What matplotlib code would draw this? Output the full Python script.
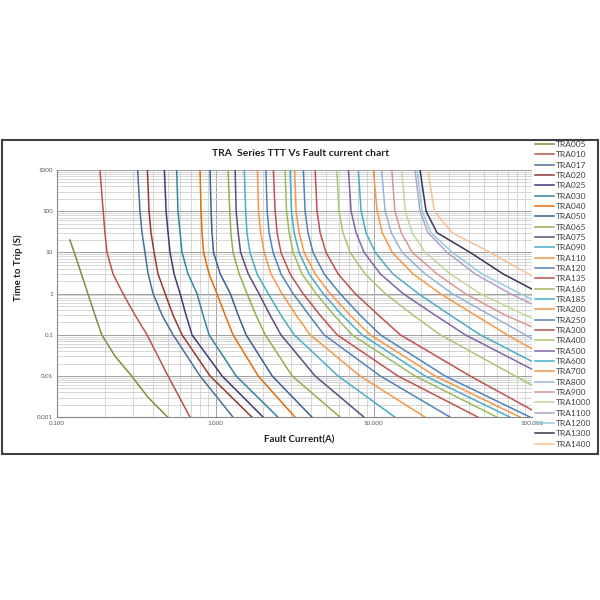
import numpy as np
import matplotlib
matplotlib.use("Agg")
import matplotlib.pyplot as plt
from matplotlib.patches import Rectangle
from matplotlib.ticker import LogLocator

plt.rcParams['font.family'] = ['Lato', 'DejaVu Sans']

nan = np.nan

# trip times (s) at which the curves were read
trip_times = [1000, 100, 30, 10, 3, 1, 0.3, 0.1, 0.01, 0.001]
# TRA005 only starts at about 20 s
tra005_times = [20, 10, 3, 1, 0.3, 0.1, 0.03, 0.01, 0.003, 0.001]

# fault current (A) of each curve at those trip times
tra005 = [0.120, 0.128, 0.142, 0.156, 0.173, 0.191, 0.232, 0.295, 0.375, 0.499]
tra010 = [0.186, 0.195, 0.200, 0.206, 0.225, 0.260, 0.310, 0.369, 0.501, 0.690]
tra017 = [0.322, 0.333, 0.343, 0.358, 0.375, 0.403, 0.459, 0.539, 0.798, 1.29]
tra020 = [0.371, 0.380, 0.391, 0.409, 0.433, 0.480, 0.539, 0.614, 0.923, 1.70]
tra025 = [0.475, 0.487, 0.501, 0.516, 0.547, 0.597, 0.651, 0.710, 1.10, 2.00]
tra030 = [0.568, 0.579, 0.597, 0.614, 0.670, 0.764, 0.834, 0.910, 1.35, 2.48]
tra040 = [0.798, 0.810, 0.822, 0.840, 0.910, 1.02, 1.15, 1.29, 1.86, 3.18]
tra050 = [0.923, 0.937, 0.950, 0.971, 1.07, 1.24, 1.39, 1.56, 2.28, 4.07]
tra065 = [1.20, 1.23, 1.25, 1.29, 1.41, 1.58, 1.80, 2.06, 3.05, 6.12]
tra075 = [1.33, 1.35, 1.39, 1.44, 1.61, 1.88, 2.21, 2.59, 4.26, 8.68]
tra090 = [1.52, 1.55, 1.58, 1.65, 1.83, 2.15, 2.59, 3.14, 5.95, 13.6]
tra110 = [1.84, 1.87, 1.93, 2.03, 2.24, 2.63, 3.23, 3.96, 8.19, 21.1]
tra120 = [2.08, 2.12, 2.18, 2.31, 2.59, 3.09, 3.90, 4.85, 11.0, 30.4]
tra135 = [2.32, 2.38, 2.45, 2.59, 2.96, 3.57, 4.58, 5.86, 14.2, 45.6]
tra160 = [2.75, 2.81, 2.92, 3.09, 3.52, 4.32, 5.61, 7.29, 18.2, 60.2]
tra185 = [2.96, 3.02, 3.14, 3.37, 3.90, 4.78, 6.30, 8.43, 21.1, 72.7]
tra200 = [3.16, 3.23, 3.37, 3.63, 4.26, 5.29, 7.08, 9.48, 24.4, 84.1]
tra250 = [3.59, 3.68, 3.84, 4.13, 4.85, 6.12, 8.19, 11.0, 28.2, 97.3]
tra300 = [4.26, 4.38, 4.58, 4.99, 5.95, 7.62, 10.7, 14.7, 40.6, 121]
tra400 = [5.84, 6.03, 6.39, 7.08, 8.81, 11.8, 17.7, 26.3, 78.2, 233]
tra500 = [6.91, 7.19, 7.73, 8.68, 11.0, 15.3, 24.4, 37.8, 121, nan]
tra600 = [7.99, 8.31, 8.94, 10.2, 13.2, 19.1, 30.4, 47.0, 151, nan]
tra700 = [9.94, 10.5, 11.3, 13.1, 17.7, 26.3, 43.7, 69.6, 201, nan]
tra800 = [11.2, 11.8, 12.9, 15.1, 21.1, 31.3, 54.4, 90.5, 269, nan]
tra900 = [13.0, 13.6, 14.9, 17.5, 25.1, 37.8, 67.6, 130, nan, nan]
tra1000 = [15.0, 15.8, 17.5, 21.1, 30.4, 47.0, 90.5, 174, nan, nan]
tra1100 = [18.2, 19.6, 22.0, 29.1, 43.7, 72.7, 140, nan, nan, nan]
tra1200 = [18.8, 20.2, 23.0, 31.3, 48.4, 84.1, 162, nan, nan, nan]
tra1300 = [19.6, 21.4, 25.1, 40.6, 65.7, 113, nan, nan, nan, nan]
tra1400 = [22.0, 24.1, 31.3, 54.4, 94.5, 162, nan, nan, nan, nan]

names = ['TRA005', 'TRA010', 'TRA017', 'TRA020', 'TRA025', 'TRA030', 'TRA040',
         'TRA050', 'TRA065', 'TRA075', 'TRA090', 'TRA110', 'TRA120', 'TRA135',
         'TRA160', 'TRA185', 'TRA200', 'TRA250', 'TRA300', 'TRA400', 'TRA500',
         'TRA600', 'TRA700', 'TRA800', 'TRA900', 'TRA1000', 'TRA1100',
         'TRA1200', 'TRA1300', 'TRA1400']
colors = ['#77933C', '#C0504D', '#4A6E9A', '#953735', '#3F3A77', '#31859C',
          '#E46C0A', '#376092', '#8EB04E', '#604A7B', '#4BACC6', '#F79646',
          '#4F81BD', '#C0504D', '#9BBB59', '#4BACC6', '#F79646', '#4F81BD',
          '#C0504D', '#A9C66F', '#8064A2', '#4BACC6', '#F79646', '#95B3D7',
          '#D99694', '#C3D69B', '#B3A2C7', '#93CDDD', '#403152', '#FAC090']

x_ticks = [0.1, 1, 10, 100]
x_tick_labels = ['0.100', '1.000', '10.000', '100.000']
y_ticks = [0.001, 0.01, 0.1, 1, 10, 100, 1000]
y_tick_labels = ['0.001', '0.01', '0.1', '1', '10', '100', '1000']

series = [tra005, tra010, tra017, tra020, tra025, tra030, tra040, tra050,
          tra065, tra075, tra090, tra110, tra120, tra135, tra160, tra185,
          tra200, tra250, tra300, tra400, tra500, tra600, tra700, tra800,
          tra900, tra1000, tra1100, tra1200, tra1300, tra1400]

fig = plt.figure(figsize=(6, 6), dpi=100)
ax = fig.add_axes([0.0955, 0.3047, 0.7912, 0.412])

for name, cur, col in zip(names, series, colors):
    times = tra005_times if name == 'TRA005' else trip_times
    ax.plot(cur, times, color=col, lw=1.1, label=name)

ax.set_xscale('log')
ax.set_yscale('log')
ax.set_xlim(0.1, 100)
ax.set_ylim(0.001, 1000)
ax.xaxis.set_minor_locator(LogLocator(base=10, subs=range(2, 10)))
ax.yaxis.set_minor_locator(LogLocator(base=10, subs=range(2, 10)))
ax.set_xticks(x_ticks, x_tick_labels)
ax.set_yticks(y_ticks, y_tick_labels)
ax.tick_params(which='both', length=0, labelsize=4.5, colors='#595959', pad=3)
ax.tick_params(which='minor', labelleft=False, labelbottom=False)
ax.grid(which='major', color='#A0A0A0', lw=0.7)
ax.grid(which='minor', color='#D0D0D0', lw=0.6)
ax.set_axisbelow(True)
for side in ['top', 'right']:
    ax.spines[side].set_visible(False)
for side in ['left', 'bottom']:
    ax.spines[side].set_color('#868686')

fig.text(300 / 600, 1 - 154 / 600, 'TRA  Series TTT Vs Fault current chart',
         ha='center', va='center', fontsize=7.5, fontweight='bold', color='#202020')
fig.text(299 / 600, 1 - 440 / 600, 'Fault Current(A)', ha='center', va='center',
         fontsize=7, fontweight='bold', color='#202020')
fig.text(18 / 600, 1 - 268 / 600, 'Time to Trip (S)', ha='center', va='center',
         rotation=90, fontsize=7, fontweight='bold', color='#202020')

leg = fig.legend(loc='upper left', bbox_to_anchor=(535 / 600, 1 - 141 / 600),
                 frameon=False, fontsize=6, handlelength=2.3, handletextpad=0.2,
                 labelspacing=0.40, borderpad=0, borderaxespad=0)
for t in leg.get_texts():
    t.set_color('#404040')

fig.add_artist(Rectangle((2 / 600, 1 - 454 / 600), 595.5 / 600, 314 / 600,
                         transform=fig.transFigure, fill=False,
                         ec='#3F3F3F', lw=1.5))

fig.savefig('out.png', dpi=100)
